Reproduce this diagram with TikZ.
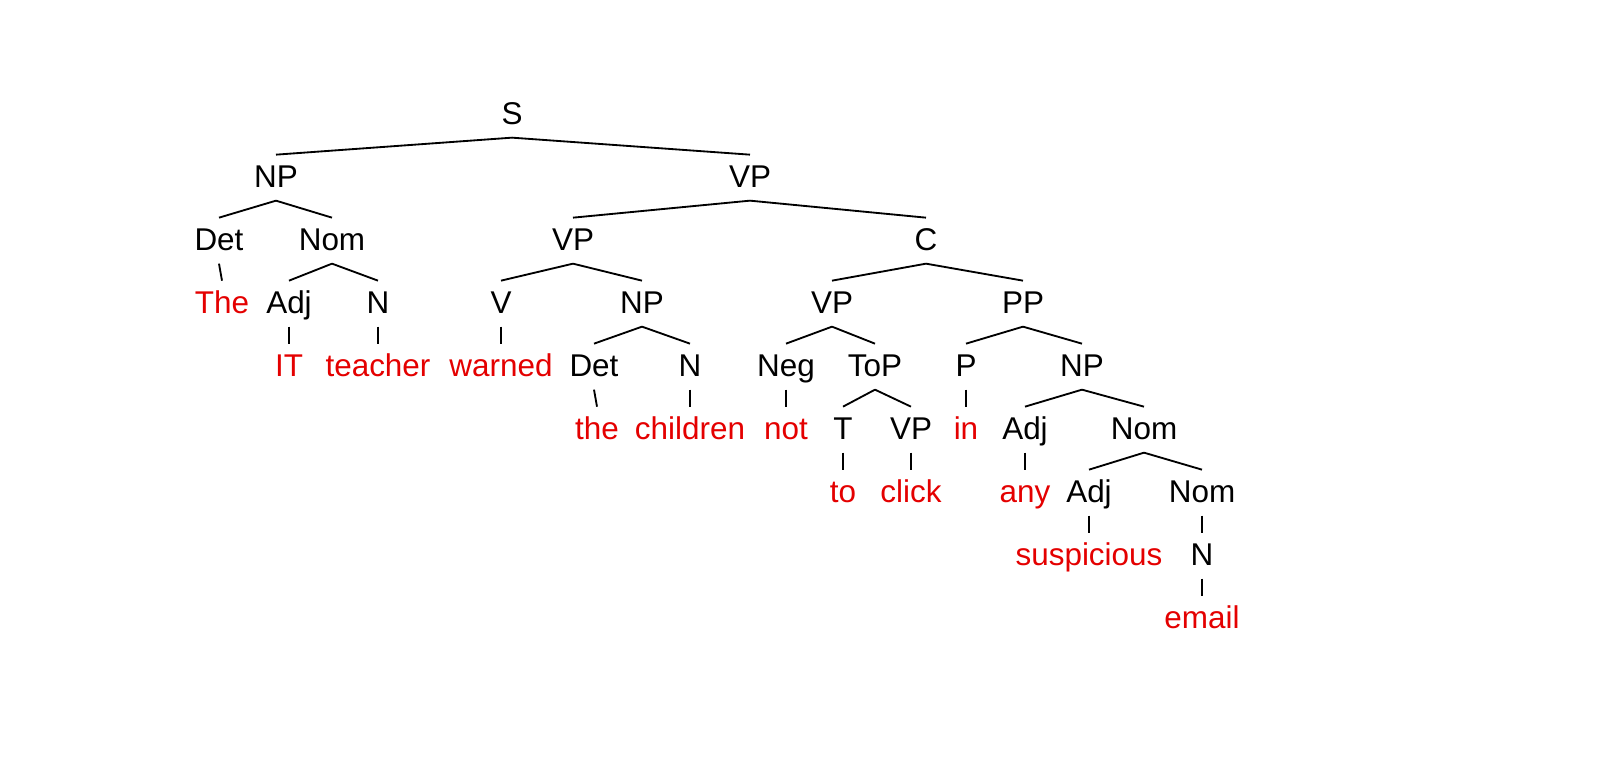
\documentclass[tikz,border=0pt]{standalone}
\usepackage{fontspec}
\setmainfont{Liberation Sans}
\definecolor{wordred}{RGB}{228,0,0}

\begin{document}
\begin{tikzpicture}[
      x=0.02cm, y=-0.02cm,
      every node/.style={font=\fontsize{17.9pt}{21pt}\selectfont, anchor=base,
        text height=0.5cm, text depth=0.126cm, inner xsep=0pt, inner ysep=0.14cm},
      cat/.style={text=black},
      word/.style={text=wordred},
      branch/.style={draw, line width=1.05pt}
    ]
    \useasboundingbox (0,0) rectangle (1614,772);

    % Raiz y primer nivel
    \node[cat] (s) at (512,124) {S};
    \node[cat] (np1) at (276,187) {NP};
    \node[cat] (vp1) at (750,187) {VP};

    % Segundo nivel
    \node[cat] (det1) at (219,250) {Det};
    \node[cat] (nom1) at (332,250) {Nom};
    \node[cat] (vp2) at (573,250) {VP};
    \node[cat] (c) at (926,250) {C};

    % Tercer nivel
    \node[word] (wThe) at (222,313) {The};
    \node[cat] (adj1) at (289,313) {Adj};
    \node[cat] (n1) at (378,313) {N};
    \node[cat] (v) at (501,313) {V};
    \node[cat] (np2) at (642,313) {NP};
    \node[cat] (vp3) at (832,313) {VP};
    \node[cat] (pp) at (1023,313) {PP};

    % Cuarto nivel
    \node[word] (wIT) at (289,376) {IT};
    \node[word] (wTeacher) at (378,376) {teacher};
    \node[word] (wWarned) at (501,376) {warned};
    \node[cat] (det2) at (594,376) {Det};
    \node[cat] (n2) at (690,376) {N};
    \node[cat] (neg) at (786,376) {Neg};
    \node[cat] (top) at (875,376) {ToP};
    \node[cat] (p) at (966,376) {P};
    \node[cat] (np3) at (1082,376) {NP};

    % Quinto nivel
    \node[word] (wThe2) at (597,439) {the};
    \node[word] (wChildren) at (690,439) {children};
    \node[word] (wNot) at (786,439) {not};
    \node[cat] (t) at (843,439) {T};
    \node[cat] (vp4) at (911,439) {VP};
    \node[word] (wIn) at (966,439) {in};
    \node[cat] (adj2) at (1025,439) {Adj};
    \node[cat] (nom2) at (1144,439) {Nom};

    % Sexto nivel y siguientes
    \node[word] (wTo) at (843,502) {to};
    \node[word] (wClick) at (911,502) {click};
    \node[word] (wAny) at (1025,502) {any};
    \node[cat] (adj3) at (1089,502) {Adj};
    \node[cat] (nom3) at (1202,502) {Nom};
    \node[word] (wSuspicious) at (1089,565) {suspicious};
    \node[cat] (n3) at (1202,565) {N};
    \node[word] (wEmail) at (1202,628) {email};

    % Ramas
    \foreach \a/\b in {s/np1, s/vp1, np1/det1, np1/nom1, vp1/vp2, vp1/c,
        det1/wThe, nom1/adj1, nom1/n1, vp2/v, vp2/np2, c/vp3, c/pp,
        adj1/wIT, n1/wTeacher, v/wWarned, np2/det2, np2/n2, vp3/neg, vp3/top,
        pp/p, pp/np3, det2/wThe2, n2/wChildren, neg/wNot, top/t, top/vp4,
        p/wIn, np3/adj2, np3/nom2, t/wTo, vp4/wClick, adj2/wAny,
        nom2/adj3, nom2/nom3, adj3/wSuspicious, nom3/n3, n3/wEmail}
      \draw[branch] (\a.south) -- (\b.north);

  \end{tikzpicture}
\end{document}
